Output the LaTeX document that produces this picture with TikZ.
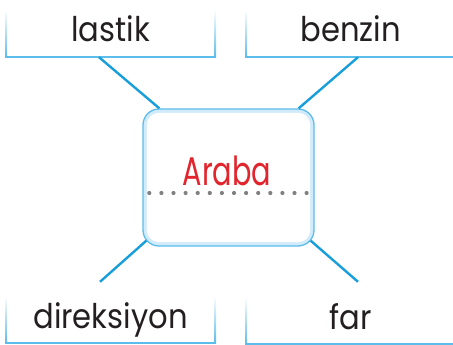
\documentclass[tikz,border=0pt]{standalone}
\usepackage{fontspec}
\setmainfont[FakeStretch=0.9]{Poppins}
\newfontfamily\narrowfont[FakeStretch=0.72]{Poppins}
\usetikzlibrary{positioning}
\definecolor{linkblue}{RGB}{24,158,218}
\definecolor{boxblue}{RGB}{92,188,234}
\definecolor{paleblue}{RGB}{210,235,250}
\definecolor{arabared}{RGB}{226,36,44}
\definecolor{dotgray}{RGB}{128,128,128}
\definecolor{inkblack}{RGB}{35,31,32}
\tikzset{
  wordbox/.style={minimum width=209pt, minimum height=47pt, inner sep=0pt,
    text height=32pt, text depth=15pt, font=\fontsize{34}{34}\selectfont, text=inkblack},
  link/.style={linkblue, line width=2.4pt},
  sideline/.style={top color=white, bottom color=boxblue, draw=none},
  centerbox/.style={minimum width=171pt, minimum height=137pt, rounded corners=16pt,
    fill=paleblue, draw=boxblue, line width=1.3pt},
}
\begin{document}
\begin{tikzpicture}[x=1pt,y=-1pt]
        \useasboundingbox (0,0) rectangle (453,345);
        % word boxes, open at the top
        \node[wordbox] (lastik) at (110.5,33.5) {lastik};
        \node[wordbox] (benzin) at (350.5,33.5) {benzin};
        \node[wordbox] (direksiyon) at (110.5,319.5) {direksiyon};
        \node[wordbox] (far) at (350.5,320.5) {far};
        \foreach \n in {lastik,benzin,direksiyon,far}{
            \shade[sideline] ([xshift=-0.8pt]\n.north west) rectangle ([xshift=0.8pt]\n.south west);
            \shade[sideline] ([xshift=-0.8pt]\n.north east) rectangle ([xshift=0.8pt]\n.south east);
            \draw[boxblue, line width=2pt] (\n.south west) -- (\n.south east);
        }
        % middle box
        \node[centerbox] (araba) at (228.5,177.5) {};
        \fill[white, rounded corners=12pt] ([shift={(4.5pt,-4.5pt)}]araba.north west) rectangle ([shift={(-4.5pt,4.5pt)}]araba.south east);
        \node[font=\narrowfont\fontsize{40}{40}\selectfont, text=arabared, inner sep=0pt, anchor=base] (arabaword) at (227,185) {Araba};
        \draw[dotgray, line width=4.2pt, line cap=round, dash pattern=on 0pt off 12.1pt] (149.3,193) -- (307,193);
        % links
        \draw[link] ([xshift=-11.5pt]lastik.south) -- ([xshift=17pt]araba.north west);
        \draw[link] ([xshift=7.5pt]benzin.south) -- ([xshift=-16pt]araba.north east);
        \draw[link] ([xshift=-10.5pt,yshift=14pt]direksiyon.north) -- ([xshift=4pt,yshift=6pt]araba.south west);
        \draw[link] ([xshift=7.5pt,yshift=15pt]far.north) -- ([xshift=-4pt,yshift=6pt]araba.south east);
\end{tikzpicture}
\end{document}
